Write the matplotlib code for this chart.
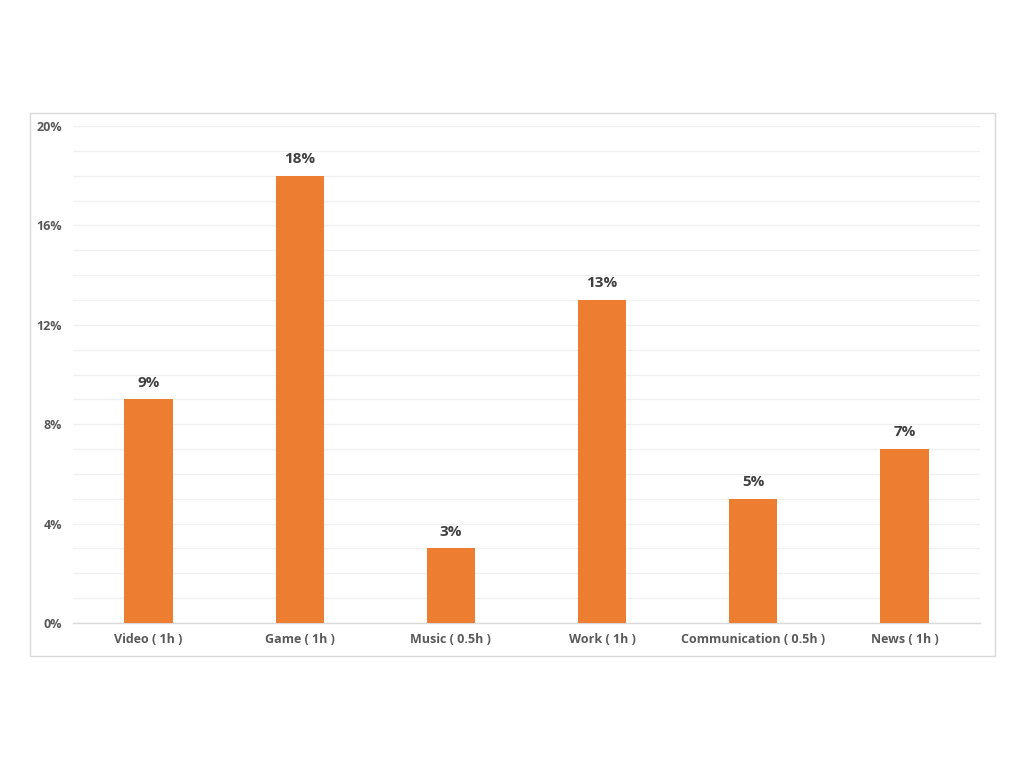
import matplotlib
matplotlib.use("Agg")
import matplotlib.pyplot as plt
from matplotlib.patches import Rectangle
from matplotlib.ticker import MultipleLocator, FuncFormatter

categories = ["Video ( 1h )", "Game ( 1h )", "Music ( 0.5h )", "Work ( 1h )",
              "Communication ( 0.5h )", "News ( 1h )"]
values = [9, 18, 3, 13, 5, 7]
value_labels = ["9%", "18%", "3%", "13%", "5%", "7%"]

plt.rcParams['font.family'] = ['Open Sans', 'DejaVu Sans']

fig = plt.figure(figsize=(10.24, 7.68), dpi=100)
fig.patch.set_facecolor("white")
fig.patches.append(Rectangle((30/1024, 1-656/768), 965/1024, 543/768,
                             transform=fig.transFigure, fill=False,
                             edgecolor="#D9D9D9", linewidth=1.0, zorder=0))

ax = fig.add_axes([73/1024, 1-623/768, 907/1024, 497/768])
x = range(len(categories))
bars = ax.bar(x, values, width=0.32, color="#ED7D31", zorder=3)

ax.set_xlim(-0.5, len(categories) - 0.5)
ax.set_ylim(0, 20)
ax.yaxis.set_major_locator(MultipleLocator(4))
ax.yaxis.set_minor_locator(MultipleLocator(1))
ax.yaxis.set_major_formatter(FuncFormatter(lambda v, p: f"{int(v)}%"))
ax.grid(axis="y", which="both", color="#F0F0F0", linewidth=1.0, zorder=0)

for s in ["top", "right", "left"]:
    ax.spines[s].set_visible(False)
ax.spines["bottom"].set_color("#D9D9D9")
ax.spines["bottom"].set_linewidth(1.0)

ax.set_xticks(list(x))
ax.set_xticklabels(categories, fontsize=9, fontweight="bold", color="#595959")
ax.tick_params(axis="x", length=0, pad=7)
ax.tick_params(axis="y", which="both", length=0, pad=8, labelsize=9, labelcolor="#595959")
for lbl in ax.get_yticklabels():
    lbl.set_fontweight("bold")

for xi, v, t in zip(x, values, value_labels):
    ax.annotate(t, (xi, v), xytext=(0, 7), textcoords="offset points",
                ha="center", va="bottom", fontsize=11, fontweight="bold",
                color="#404040")

fig.savefig("out.png", dpi=100)
